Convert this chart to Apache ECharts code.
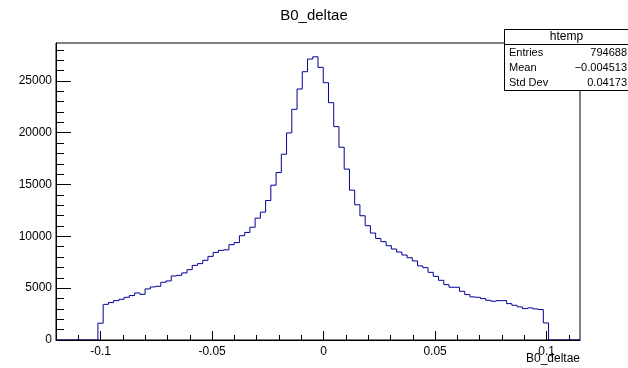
<!DOCTYPE html>
<html>
<head>
<meta charset="utf-8">
<script src="https://cdn.jsdelivr.net/npm/echarts@6/dist/echarts.min.js"></script>
<style>
html,body{margin:0;padding:0;background:#fff;}
#chart{width:628px;height:368px;}
</style>
</head>
<body>
<div id="chart"></div>
<script>
// ---- data ----
var histTitle = 'B0_deltae';
var axisTitle = 'B0_deltae';
var statsName = 'htemp';
var statsLabels = ['Entries', 'Mean', 'Std Dev'];
var statsValues = ['794688', '\u22120.004513', '0.04173'];
var xLow = -0.12;          // histogram lower edge
var xHigh = 0.115;         // histogram upper edge
var nBins = 100;
var binCounts = [
  0, 0, 0, 0, 0, 0, 0, 0,
  1620, 3440, 3610, 3800, 3930, 4120, 4290, 4540, 4410, 4930,
  5120, 5180, 5570, 5700, 6180, 6240, 6470, 6790, 7200, 7370,
  7690, 8070, 8450, 8650, 8700, 9200, 9400, 10060, 10380, 10880,
  11760, 12340, 13460, 14940, 16160, 17930, 19980, 22260, 24220, 25890,
  27110, 27330, 26310, 24830, 22900, 20590, 18600, 16490, 14460, 13050,
  11990, 11030, 10320, 9800, 9490, 9100, 8780, 8490, 8200, 7940,
  7630, 7150, 6980, 6530, 6140, 5760, 5340, 5090, 5090, 4700,
  4380, 4160, 4120, 4000, 3830, 3740, 3800, 3800, 3510, 3350,
  3200, 3030, 3100, 3000, 2940, 1650,
  0, 0, 0, 0, 0, 0
];
var yMax = 28660;
var xMajorTicks = [-0.1, -0.05, 0, 0.05, 0.1];
var xMinorTicks = [-0.11, -0.1, -0.09, -0.08, -0.07, -0.06, -0.05, -0.04, -0.03, -0.02, -0.01, 0,
                   0.01, 0.02, 0.03, 0.04, 0.05, 0.06, 0.07, 0.08, 0.09, 0.1, 0.11];
var yMajorTicks = [0, 5000, 10000, 15000, 20000, 25000];
var yMinorTicks = [0, 1000, 2000, 3000, 4000, 5000, 6000, 7000, 8000, 9000, 10000, 11000, 12000, 13000,
                   14000, 15000, 16000, 17000, 18000, 19000, 20000, 21000, 22000, 23000, 24000, 25000,
                   26000, 27000, 28000];

// ---- build bin data: [left edge, right edge, count, previous count] ----
var binWidth = (xHigh - xLow) / nBins;
var binData = [];
for (var i = 0; i < nBins; i++) {
  binData.push([xLow + i * binWidth, xLow + (i + 1) * binWidth, binCounts[i], i > 0 ? binCounts[i - 1] : binCounts[0]]);
}

var FONT = '"Liberation Sans", Arial, Helvetica, sans-serif';
var G = {left: 56, top: 43, right: 48, bottom: 28};
var gx1 = 628 - G.right;
var LINE_COLOR = '#000099';

function renderBin(params, api) {
  var x0 = api.value(0), x1 = api.value(1), c = api.value(2), pc = api.value(3);
  var pL = api.coord([x0, c]);
  var pR = api.coord([x1, c]);
  var pP = api.coord([x0, pc]);
  var st = {stroke: LINE_COLOR, lineWidth: 1, fill: null};
  var children = [
    {type: 'line', shape: {x1: pL[0], y1: pL[1], x2: pR[0], y2: pR[1]}, style: st},
    {type: 'line', shape: {x1: pL[0], y1: pP[1], x2: pL[0], y2: pL[1]}, style: st}
  ];
  return {type: 'group', children: children};
}

var chart = echarts.init(document.getElementById('chart'), null, {renderer: 'canvas'});
var boxX = 502, boxY = 29, boxW = 125, boxH = 61;

chart.setOption({
  animation: false,
  backgroundColor: '#fff',
  title: {
    text: histTitle, left: 'center', top: 3,
    textStyle: {fontFamily: FONT, fontSize: 15, fontWeight: 'normal', color: '#000'}
  },
  grid: {left: G.left, top: G.top, right: G.right, bottom: G.bottom, show: true,
         borderColor: '#000', borderWidth: 1, backgroundColor: 'transparent', containLabel: false},
  xAxis: [{
    type: 'value', min: xLow, max: xHigh, position: 'bottom',
    axisLine: {show: true, onZero: false, lineStyle: {color: '#000', width: 1}},
    axisTick: {show: true, inside: true, length: 9, customValues: xMajorTicks, lineStyle: {color: '#000'}},
    axisLabel: {show: true, customValues: xMajorTicks, margin: 6, fontFamily: FONT, fontSize: 12, color: '#000',
                formatter: function (v) { return String(Math.round(v * 1000) / 1000); }},
    splitLine: {show: false}
  }, {
    type: 'value', min: xLow, max: xHigh, position: 'bottom',
    axisLine: {show: false, onZero: false},
    axisTick: {show: true, inside: true, length: 5, customValues: xMinorTicks, lineStyle: {color: '#000'}},
    axisLabel: {show: false},
    splitLine: {show: false}
  }],
  yAxis: [{
    type: 'value', min: 0, max: yMax, position: 'left',
    axisLine: {show: true, onZero: false, lineStyle: {color: '#000', width: 1}},
    axisTick: {show: true, inside: true, length: 15, customValues: yMajorTicks, lineStyle: {color: '#000'}},
    axisLabel: {show: true, customValues: yMajorTicks, margin: 4, fontFamily: FONT, fontSize: 12, color: '#000',
                formatter: function (v) { return String(v); }},
    splitLine: {show: false}
  }, {
    type: 'value', min: 0, max: yMax, position: 'left',
    axisLine: {show: false, onZero: false},
    axisTick: {show: true, inside: true, length: 8, customValues: yMinorTicks, lineStyle: {color: '#000'}},
    axisLabel: {show: false},
    splitLine: {show: false}
  }],
  series: [{
    type: 'custom', xAxisIndex: 0, yAxisIndex: 0,
    renderItem: renderBin, data: binData, silent: true, clip: true, z: 3,
    encode: {x: [0, 1], y: [2, 3]}
  }],
  graphic: [
    {type: 'text', right: 628 - gx1, top: 353,
     style: {text: axisTitle, font: '12px ' + FONT, fill: '#000', textAlign: 'right'}},
    {type: 'group', left: boxX, top: boxY, z: 100, children: [
      {type: 'rect', shape: {x: 0.5, y: 0.5, width: boxW, height: boxH},
       style: {fill: '#fff', stroke: '#000', lineWidth: 1}},
      {type: 'line', shape: {x1: 0.5, y1: 15.5, x2: boxW + 0.5, y2: 15.5}, style: {stroke: '#000', lineWidth: 1}},
      {type: 'text', x: boxW / 2, y: 8, style: {text: statsName, font: '12px ' + FONT, fill: '#000', align: 'center', verticalAlign: 'middle'}},
      {type: 'text', x: 5, y: 23.5, style: {text: statsLabels[0], font: '11px ' + FONT, fill: '#000', verticalAlign: 'middle'}},
      {type: 'text', x: 5, y: 38.5, style: {text: statsLabels[1], font: '11px ' + FONT, fill: '#000', verticalAlign: 'middle'}},
      {type: 'text', x: 5, y: 53.5, style: {text: statsLabels[2], font: '11px ' + FONT, fill: '#000', verticalAlign: 'middle'}},
      {type: 'text', x: boxW - 2, y: 23.5, style: {text: statsValues[0], font: '11px ' + FONT, fill: '#000', align: 'right', verticalAlign: 'middle'}},
      {type: 'text', x: boxW - 2, y: 38.5, style: {text: statsValues[1], font: '11px ' + FONT, fill: '#000', align: 'right', verticalAlign: 'middle'}},
      {type: 'text', x: boxW - 2, y: 53.5, style: {text: statsValues[2], font: '11px ' + FONT, fill: '#000', align: 'right', verticalAlign: 'middle'}}
    ]}
  ]
});
</script>
</body>
</html>
